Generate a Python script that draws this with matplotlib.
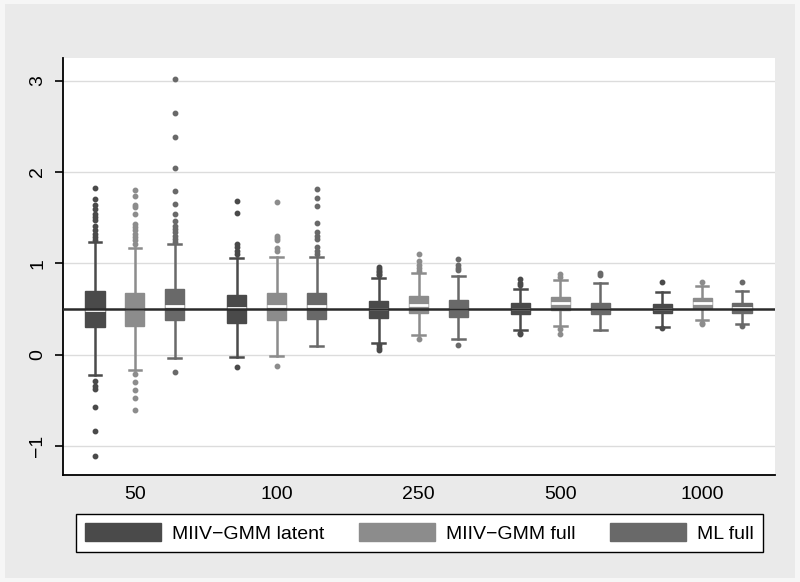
import numpy as np
import matplotlib.pyplot as plt
from matplotlib.patches import Patch, Rectangle

plt.rcParams['font.family'] = ['Liberation Sans', 'DejaVu Sans']

# Размеры выборки (группы)
groups = ['50', '100', '250', '500', '1000']
series = ['MIIV\u2212GMM latent', 'MIIV\u2212GMM full', 'ML full']
colors = ['#4a4a4a', '#8c8c8c', '#696969']

# Статистики боксов: [q1, median, q3, нижний ус, верхний ус] по группам
latent_stats = [
    [0.30, 0.49, 0.70, -0.22, 1.23],
    [0.35, 0.51, 0.65, -0.03, 1.06],
    [0.40, 0.50, 0.59, 0.13, 0.84],
    [0.44, 0.50, 0.56, 0.27, 0.72],
    [0.45, 0.50, 0.55, 0.30, 0.69],
]
full_stats = [
    [0.31, 0.50, 0.67, -0.17, 1.17],
    [0.38, 0.53, 0.67, -0.02, 1.07],
    [0.45, 0.54, 0.64, 0.21, 0.89],
    [0.49, 0.56, 0.63, 0.31, 0.82],
    [0.51, 0.56, 0.62, 0.38, 0.75],
]
ml_stats = [
    [0.38, 0.53, 0.72, -0.04, 1.21],
    [0.39, 0.53, 0.68, 0.09, 1.07],
    [0.41, 0.50, 0.60, 0.17, 0.86],
    [0.44, 0.50, 0.56, 0.27, 0.78],
    [0.45, 0.51, 0.56, 0.33, 0.70],
]

# Выбросы
latent_fliers = [
    [1.83, 1.70, 1.64, 1.59, 1.54, 1.51, 1.47, 1.41, 1.36, 1.32, 1.29, 1.26,
     -0.29, -0.34, -0.38, -0.58, -0.84, -1.11],
    [1.68, 1.55, 1.21, 1.18, 1.14, 1.10, -0.14],
    [0.96, 0.94, 0.92, 0.90, 0.88, 0.87, 0.10, 0.07, 0.05],
    [0.83, 0.78, 0.76, 0.24, 0.23],
    [0.79, 0.29],
]
full_fliers = [
    [1.80, 1.74, 1.64, 1.62, 1.54, 1.43, 1.40, 1.36, 1.32, 1.29, 1.25, 1.21,
     -0.21, -0.30, -0.39, -0.48, -0.61],
    [1.67, 1.30, 1.28, 1.25, 1.17, 1.14, -0.13],
    [1.10, 1.03, 0.98, 0.95, 0.92, 0.17],
    [0.88, 0.85, 0.28, 0.23],
    [0.80, 0.35, 0.33],
]
ml_fliers = [
    [3.02, 2.65, 2.38, 2.04, 1.79, 1.65, 1.54, 1.46, 1.41, 1.38, 1.34, 1.30,
     1.27, 1.23, -0.19],
    [1.81, 1.72, 1.63, 1.44, 1.34, 1.30, 1.27, 1.18, 1.14, 1.10],
    [1.05, 0.98, 0.95, 0.93, 0.10],
    [0.89, 0.87],
    [0.80, 0.31],
]

true_value = 0.5
yticks = [-1, 0, 1, 2, 3]

all_stats = [latent_stats, full_stats, ml_stats]
all_fliers = [latent_fliers, full_fliers, ml_fliers]

fig = plt.figure(figsize=(8, 5.82), dpi=100, facecolor='#f6f6f6')
# серая подложка графика (как в Stata)
fig.patches.append(Rectangle((5 / 800, 4 / 582), 790 / 800, 574 / 582,
                             transform=fig.transFigure, facecolor='#eaeaea',
                             edgecolor='none', zorder=-10))
ax = fig.add_axes([63 / 800, 1 - 475 / 582, 712 / 800, 417 / 582])
ax.set_zorder(2)
ax.set_facecolor('white')

gap = 3.55
for s in range(3):
    stats = []
    for g in range(len(groups)):
        q1, med, q3, lo, hi = all_stats[s][g]
        stats.append(dict(q1=q1, med=med, q3=q3, whislo=lo, whishi=hi,
                          fliers=all_fliers[s][g]))
    pos = [g * gap + s - 1 for g in range(len(groups))]
    c = colors[s]
    ax.bxp(stats, positions=pos, widths=0.48, patch_artist=True,
           showfliers=True,
           boxprops=dict(facecolor=c, edgecolor=c, linewidth=1),
           medianprops=dict(color='white', linewidth=2),
           whiskerprops=dict(color=c, linewidth=1.8),
           capprops=dict(color=c, linewidth=1.8),
           capwidths=0.32,
           flierprops=dict(marker='o', markersize=3.2, markerfacecolor=c,
                           markeredgecolor=c, linestyle='none'),
           zorder=3)

ax.axhline(true_value, color='#2a2a2a', linewidth=1.8, zorder=4)

ax.set_xlim(-1.8, 4 * gap + 1.825)
ax.set_ylim(-1.32, 3.25)
ax.set_xticks([g * gap for g in range(len(groups))])
ax.set_xticklabels(groups, fontsize=14)
ax.tick_params(axis='x', length=0, pad=8)
ax.set_yticks(yticks)
ax.set_yticklabels(['\u22121', '0', '1', '2', '3'], fontsize=14, rotation=90,
                   va='center')
ax.tick_params(axis='y', length=6, width=1.2, pad=6)
ax.grid(axis='y', color='#dcdcdc', linewidth=1, zorder=0)
ax.set_axisbelow(True)
for side in ['top', 'right']:
    ax.spines[side].set_visible(False)
ax.spines['left'].set_linewidth(1.3)
ax.spines['bottom'].set_linewidth(1.3)

handles = [Patch(facecolor=c, edgecolor=c) for c in colors]
leg = fig.legend(handles, series, loc='center', ncol=3,
                 bbox_to_anchor=(419.5 / 800, 1 - 533 / 582),
                 fontsize=14, frameon=True, fancybox=False, framealpha=1,
                 handlelength=3.9, handleheight=1.05, handletextpad=0.6,
                 columnspacing=1.75, borderpad=0.45, borderaxespad=0)
leg.get_frame().set_edgecolor('black')
leg.get_frame().set_linewidth(1)
leg.get_frame().set_facecolor('white')

plt.savefig('out.png', dpi=100, facecolor=fig.get_facecolor())
